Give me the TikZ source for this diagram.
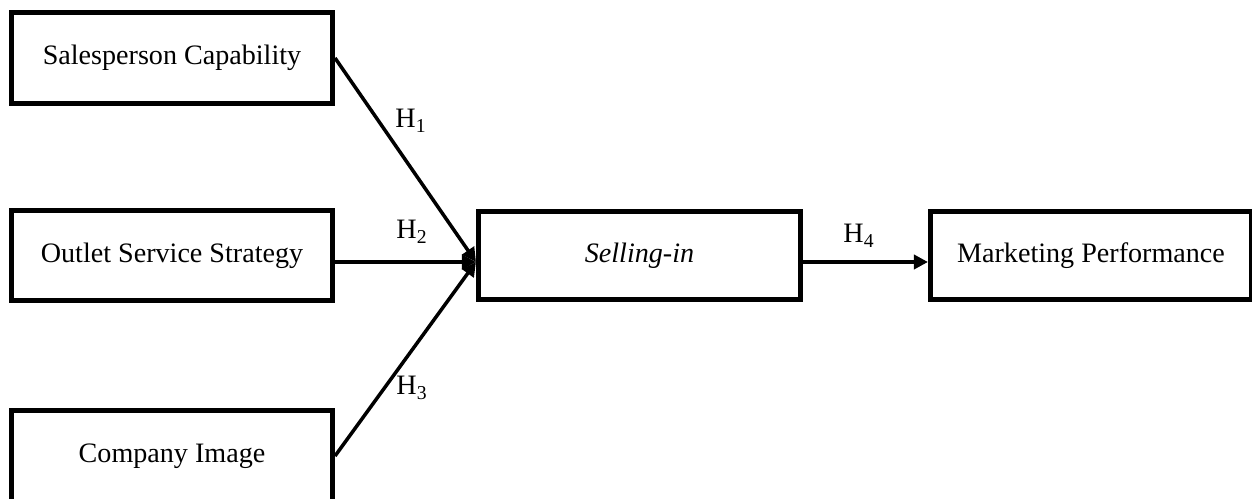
\documentclass[tikz,border=0pt]{standalone}
\usepackage{fontspec}
\setmainfont{Liberation Serif}
\usetikzlibrary{arrows.meta}
\begin{document}
\begin{tikzpicture}[x=0.02cm,y=-0.02cm,
  box/.style={draw=black,line width=2.9pt,rectangle,inner sep=0pt,
    minimum width=6.42cm,font=\fontsize{16}{19}\selectfont},
  conn/.style={line width=2pt,-{Triangle[length=8pt,width=8pt]}},
  hlab/.style={font=\fontsize{16}{19}\selectfont,inner sep=0pt}]
\useasboundingbox (0,0) rectangle (1252,499);
\node[box,minimum height=1.82cm] (b1) at (172,58) {Salesperson Capability};
\node[box,minimum height=1.80cm] (b2) at (172,255.5) {Outlet Service Strategy};
\node[box,minimum height=1.82cm] (b3) at (172,456) {Company Image};
\node[box,minimum height=1.76cm,minimum width=6.44cm] (sell) at (639.5,255.5) {\itshape Selling-in};
\node[box,minimum height=1.76cm] (mkt) at (1091,255.5) {Marketing Performance};
\coordinate (tip) at (476,262);
\draw[conn] (b1.east) -- (tip);
\draw[conn] (b2.east |- tip) -- (tip);
\draw[conn] (b3.east) -- (tip);
\draw[conn] (sell.east |- tip) -- (mkt.west |- tip);
\node[hlab] (h1) at (411,121) {H\textsubscript{1}};
\node[hlab] (h2) at (412,232) {H\textsubscript{2}};
\node[hlab] (h3) at (412,388) {H\textsubscript{3}};
\node[hlab] (h4) at (859,236) {H\textsubscript{4}};
\end{tikzpicture}
\end{document}
